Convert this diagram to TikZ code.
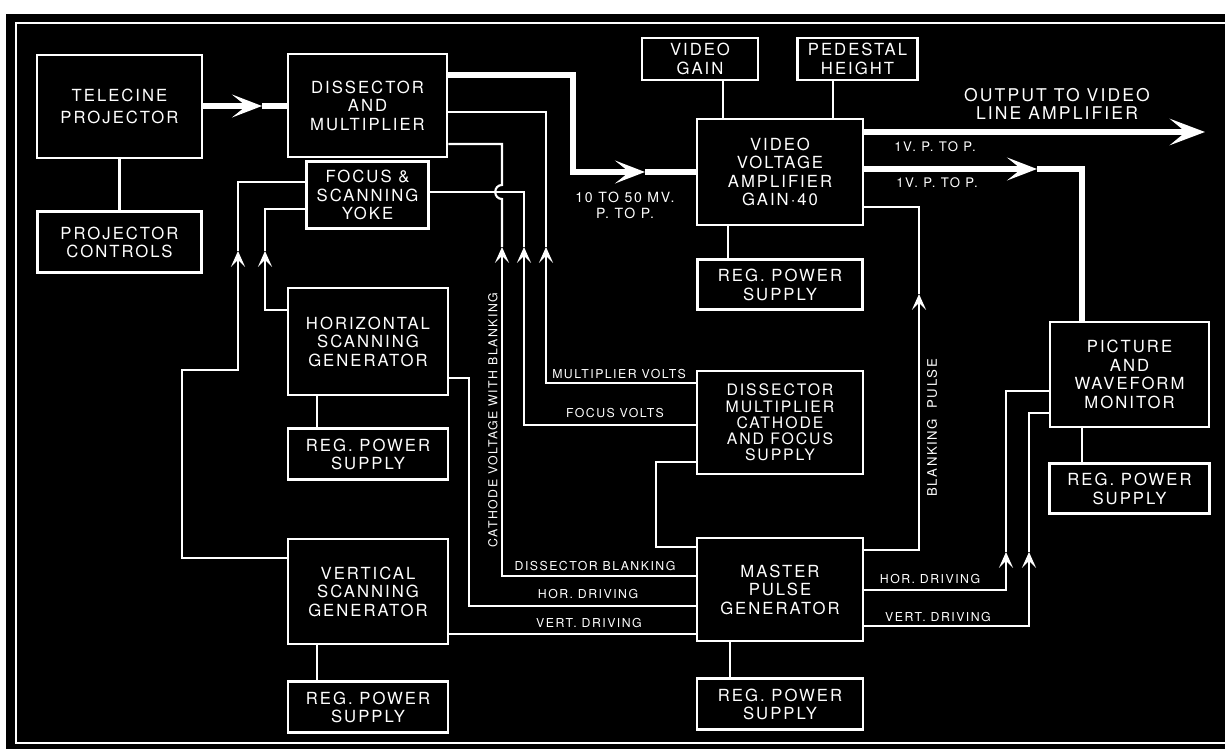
\documentclass[tikz,border=0pt]{standalone}
\usepackage{fontspec}
\setmainfont{TeX Gyre Heros}[LetterSpace=12]
\usetikzlibrary{arrows.meta, positioning}

\begin{document}
\begin{tikzpicture}[x=0.02cm, y=-0.02cm, >=Stealth,
    blk/.style={rectangle, draw=white, fill=black, text=white, line width=1.6pt,
                align=center, inner sep=0pt, font=\fontsize{9.5}{10.5}\selectfont},
    wire/.style={draw=white, line width=1.2pt},
    video/.style={draw=white, line width=3pt},
    thintip/.style={-{Stealth[length=9pt, width=8pt, inset=4pt]}},
    fattip/.style={-{Stealth[length=17pt, width=13pt, inset=8pt]}},
    outtip/.style={-{Stealth[length=20pt, width=15pt, inset=9pt]}},
    lbl/.style={text=white, inner sep=0pt, align=center, font=\fontsize{7}{8}\selectfont}]

    % sheet and frame
    \useasboundingbox (0,0) rectangle (1225,749);
    \fill[white] (0,0) rectangle (1225,749);
    \fill[black] (6,14) rectangle (1225,749);
    \draw[white, line width=1.4pt] (16,23) rectangle (1240,743);

    % units
    \node[blk, minimum width=3.30cm, minimum height=2.06cm] (tele) at (119.5,106.5) {TELECINE\\[2pt]PROJECTOR};
    \node[blk, minimum width=3.28cm, minimum height=1.22cm, below=1.02cm of tele] (projctl) {PROJECTOR\\CONTROLS};
    \node[blk, minimum width=3.18cm, minimum height=2.06cm] (dam) at (367.5,105.5) {DISSECTOR\\AND\\MULTIPLIER};
    \node[blk, minimum width=2.44cm, minimum height=1.34cm, below=0.04cm of dam] (yoke) {FOCUS \&\\SCANNING\\YOKE};
    \node[blk, minimum width=2.32cm, minimum height=0.84cm] (vgain) at (700,59) {VIDEO\\GAIN};
    \node[blk, minimum width=2.40cm, minimum height=0.84cm] (ped) at (857.5,59) {PEDESTAL\\HEIGHT};
    \node[blk, minimum width=3.32cm, minimum height=2.12cm] (amp) at (780,172) {VIDEO\\VOLTAGE\\AMPLIFIER\\GAIN·40};
    \node[blk, minimum width=3.30cm, minimum height=1.00cm, below=0.64cm of amp] (amprps) {REG. POWER\\SUPPLY};
    \node[blk, minimum width=3.20cm, minimum height=2.14cm] (hsg) at (368,341.5) {HORIZONTAL\\SCANNING\\GENERATOR};
    \node[blk, minimum width=3.20cm, minimum height=1.02cm, below=0.62cm of hsg] (hsgrps) {REG. POWER\\SUPPLY};
    \node[blk, minimum width=3.32cm, minimum height=2.06cm, font=\fontsize{9}{9.2}\selectfont] (dmcfs) at (780,422.5) {DISSECTOR\\MULTIPLIER\\CATHODE\\AND FOCUS\\SUPPLY};
    \node[blk, minimum width=3.20cm, minimum height=2.10cm] (vsg) at (368,591.5) {VERTICAL\\SCANNING\\GENERATOR};
    \node[blk, minimum width=3.20cm, minimum height=1.02cm, below=0.70cm of vsg] (vsgrps) {REG. POWER\\SUPPLY};
    \node[blk, minimum width=3.32cm, minimum height=2.06cm] (mpg) at (780,589.5) {MASTER\\PULSE\\GENERATOR};
    \node[blk, minimum width=3.32cm, minimum height=1.02cm, below=0.70cm of mpg] (mpgrps) {REG. POWER\\SUPPLY};
    \node[blk, minimum width=3.18cm, minimum height=2.10cm] (mon) at (1129.5,374.5) {PICTURE\\AND\\WAVEFORM\\MONITOR};
    \node[blk, minimum width=3.20cm, minimum height=1.00cm, below=0.68cm of mon] (monrps) {REG. POWER\\SUPPLY};

    % picture and video path
    \coordinate (ptip) at (262,106);
    \draw[video, fattip] (tele.east |- ptip) -- (ptip);
    \draw[video] (ptip) -- (dam.west |- ptip);
    \coordinate (vtip) at (645,172);
    \draw[video, fattip] (dam.east |- 0,75) -| (573,172) -- (vtip);
    \draw[video] (vtip) -- (amp.west |- vtip);
    \coordinate (otip) at (1205,132);
    \draw[video, outtip] (amp.east |- otip) -- (otip);
    \coordinate (mtip) at (1037,169);
    \draw[video, fattip] (amp.east |- mtip) -- (mtip);
    \draw[video] (mtip) -| (mon.north -| 1082,0);

    % controls and supplies
    \draw[wire] (tele.south) -- (projctl.north);
    \draw[wire] (vgain.south -| 723,0) -- (amp.north -| 723,0);
    \draw[wire] (ped.south -| 833,0) -- (amp.north -| 833,0);
    \draw[wire] (amp.south -| 728,0) -- (amprps.north -| 728,0);
    \draw[wire] (hsg.south -| 317,0) -- (hsgrps.north -| 317,0);
    \draw[wire] (vsg.south -| 317,0) -- (vsgrps.north -| 317,0);
    \draw[wire] (mpg.south -| 730,0) -- (mpgrps.north -| 730,0);
    \draw[wire] (mon.south -| 1082,0) -- (monrps.north -| 1082,0);

    % dissector voltages
    \coordinate (mvtip) at (546,247);
    \draw[wire, thintip] (dmcfs.west |- 0,383) -| (mvtip);
    \draw[wire] (mvtip) |- (dam.east |- 0,112);
    \coordinate (fvtip) at (524,247);
    \draw[wire, thintip] (dmcfs.west |- 0,425) -| (fvtip);
    \draw[wire] (fvtip) |- (yoke.east |- 0,192);
    \coordinate (cvtip) at (502,247);
    \draw[wire, thintip] (mpg.west |- 0,576) -| (cvtip);
    \draw[wire] (cvtip) -- (502,199) .. controls (493,199) and (493,185) .. (502,185) |- (dam.east |- 0,144);

    % pulses
    \draw[wire] (mpg.west |- 0,606) -| (469,378) -- (hsg.east |- 0,378);
    \draw[wire] (mpg.west |- 0,634) -- (vsg.east |- 0,634);
    \draw[wire] (dmcfs.west |- 0,462) -| (656,547) -- (mpg.west |- 0,547);
    \coordinate (bptip) at (919,294);
    \draw[wire, thintip] (mpg.east |- 0,550) -| (bptip);
    \draw[wire] (bptip) |- (amp.east |- 0,207);
    \coordinate (hdtip) at (1006,552);
    \draw[wire, thintip] (mpg.east |- 0,590) -| (hdtip);
    \draw[wire] (hdtip) |- (mon.west |- 0,391);
    \coordinate (vdtip) at (1029,552);
    \draw[wire, thintip] (mpg.east |- 0,626) -| (vdtip);
    \draw[wire] (vdtip) |- (mon.west |- 0,413);

    % scanning to yoke
    \coordinate (vytip) at (238,251);
    \draw[wire, thintip] (vsg.west |- 0,558) -| (182,370) -| (vytip);
    \draw[wire] (vytip) |- (yoke.west |- 0,182);
    \coordinate (hytip) at (265,251);
    \draw[wire, thintip] (hsg.west |- 0,310) -| (hytip);
    \draw[wire] (hytip) |- (yoke.west |- 0,209);

    % labels
    \node[lbl, font=\fontsize{8}{9}\selectfont] (mvpp) at (625,205) {10 TO 50 MV.\\P. TO P.};
    \node[lbl, font=\fontsize{10}{10.5}\selectfont] (outlbl) at (1057,104) {OUTPUT TO VIDEO\\LINE AMPLIFIER};
    \node[lbl, font=\fontsize{7.5}{8}\selectfont] (ppa) at (935,147) {1V. P. TO P.};
    \node[lbl, font=\fontsize{7.5}{8}\selectfont] (ppb) at (937,183) {1V. P. TO P.};
    \node[lbl] (mvlbl) at (619,374) {MULTIPLIER VOLTS};
    \node[lbl] (fvlbl) at (615,413) {FOCUS VOLTS};
    \node[lbl] (dblbl) at (595,566) {DISSECTOR BLANKING};
    \node[lbl] (hdlbl) at (588,594) {HOR. DRIVING};
    \node[lbl] (vdlbl) at (589,623) {VERT. DRIVING};
    \node[lbl] (hdlbl2) at (930,579) {HOR. DRIVING};
    \node[lbl] (vdlbl2) at (938,617) {VERT. DRIVING};
    \node[lbl, rotate=90] (cvlbl) at (493,420) {CATHODE VOLTAGE WITH BLANKING};
    \node[lbl, rotate=90, font=\fontsize{7.5}{8}\selectfont] (bplbl) at (932,428) {BLANKING\ \ PULSE};
\end{tikzpicture}
\end{document}
